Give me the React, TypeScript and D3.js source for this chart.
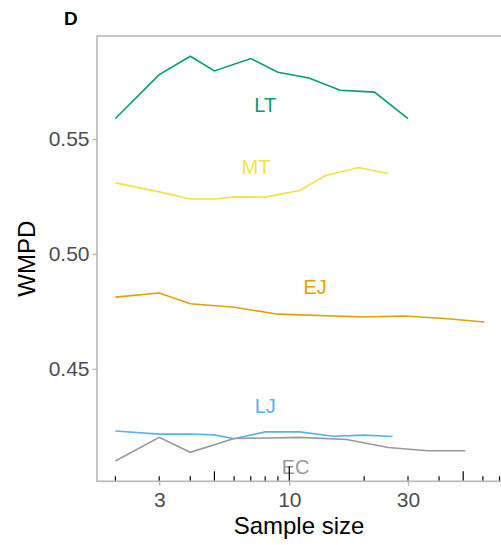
import React, { useEffect, useRef } from 'react';
import * as d3 from 'd3';

// sample sizes and WMPD values per group
const ltSizes = [2, 3, 4, 5, 7, 9, 12, 16, 22, 30];
const ltValues = [0.5589, 0.578, 0.586, 0.5796, 0.585, 0.579, 0.5765, 0.5712, 0.5704, 0.5589];

const mtSizes = [2, 3, 4, 5, 6, 8, 11, 14, 19, 25];
const mtValues = [0.5309, 0.527, 0.5239, 0.5239, 0.5248, 0.5247, 0.5276, 0.5341, 0.5376, 0.535];

const ejSizes = [2, 3, 4, 6, 9, 20, 29, 42, 61];
const ejValues = [0.4812, 0.483, 0.4783, 0.4768, 0.4738, 0.4726, 0.473, 0.4719, 0.4704];

const ljSizes = [2, 3, 4, 5, 6, 8, 11, 15, 20, 26];
const ljValues = [0.423, 0.4216, 0.4217, 0.4213, 0.4196, 0.4226, 0.4226, 0.4207, 0.4212, 0.4206];

const ecSizes = [2, 3, 4, 6, 11, 17, 25, 36, 51];
const ecValues = [0.4099, 0.4202, 0.4137, 0.4197, 0.4202, 0.4193, 0.4158, 0.4144, 0.4144];

const groups = ['LT', 'MT', 'EJ', 'LJ', 'EC'];
const groupColors = ['#009E73', '#F0E442', '#E69F00', '#56B4E9', '#999999'];
// where each group name is written (sample size, WMPD)
const labelSizes = [8, 7.35, 12.7, 8, 10.6];
const labelValues = [0.5647, 0.5381, 0.4855, 0.4338, 0.4073];

const xBreaks = [3, 10, 30];
const yBreaks = [0.45, 0.5, 0.55];

const App = () => {
  const ref = useRef<SVGSVGElement>(null);

  useEffect(() => {
    const svg = d3.select(ref.current);
    svg.selectAll('*').remove();

    const width = 501;
    const height = 545;
    const left = 97;
    const right = 503;
    const top = 36;
    const bottom = 481.3;

    const x = d3.scaleLog().domain([Math.pow(10, 0.227), Math.pow(10, 1.859)]).range([left, right]);
    const y = d3.scaleLinear().domain([0.4011, 0.5948]).range([bottom, top]);

    const font = 'Liberation Sans, Arial, Helvetica, sans-serif';

    svg.append('rect').attr('width', width).attr('height', height).attr('fill', '#fff');

    // series lines
    const series = [
      { sizes: ltSizes, values: ltValues },
      { sizes: mtSizes, values: mtValues },
      { sizes: ejSizes, values: ejValues },
      { sizes: ljSizes, values: ljValues },
      { sizes: ecSizes, values: ecValues },
    ];
    const line = d3.line<[number, number]>()
      .x(d => x(d[0]))
      .y(d => y(d[1]));

    series.forEach((s, i) => {
      const pts = s.sizes.map((n, j) => [n, s.values[j]] as [number, number]);
      svg.append('path')
        .attr('d', line(pts))
        .attr('fill', 'none')
        .attr('stroke', groupColors[i])
        .attr('stroke-width', 1.6);
    });

    // group labels
    groups.forEach((g, i) => {
      svg.append('text')
        .attr('x', x(labelSizes[i]))
        .attr('y', y(labelValues[i]))
        .attr('dy', '0.36em')
        .attr('text-anchor', 'middle')
        .attr('font-family', font)
        .attr('font-size', 20)
        .attr('fill', groupColors[i])
        .text(g);
    });

    // log ticks inside the panel along the bottom (drawn over the labels)
    const logTicks: number[] = [];
    [1, 10].forEach(dec => {
      for (let m = 1; m <= 9; m++) logTicks.push(dec * m);
    });
    logTicks
      .filter(v => x(v) >= left && x(v) <= right)
      .forEach(v => {
        const lead = Math.round(v / Math.pow(10, Math.floor(Math.log10(v) + 1e-9)));
        const len = lead === 1 ? 15 : lead === 5 ? 10 : 5;
        svg.append('line')
          .attr('x1', x(v)).attr('x2', x(v))
          .attr('y1', bottom).attr('y2', bottom - len)
          .attr('stroke', '#000')
          .attr('stroke-width', 1.2);
      });

    // panel border
    svg.append('rect')
      .attr('x', left).attr('y', top)
      .attr('width', right - left).attr('height', bottom - top)
      .attr('fill', 'none')
      .attr('stroke', '#b8b8b8')
      .attr('stroke-width', 1.6);

    // x axis
    const xAxis = svg.append('g').attr('transform', `translate(0,${bottom})`)
      .call(d3.axisBottom(x).tickValues(xBreaks).tickFormat(d3.format('d')).tickSize(4.5).tickPadding(6));
    xAxis.select('.domain').remove();
    xAxis.selectAll('line').attr('stroke', '#b8b8b8').attr('stroke-width', 1.4);
    xAxis.selectAll('text').attr('font-family', font).attr('font-size', 21).attr('fill', '#4d4d4d');

    // y axis
    const yAxis = svg.append('g').attr('transform', `translate(${left},0)`)
      .call(d3.axisLeft(y).tickValues(yBreaks).tickFormat(d3.format('.2f')).tickSize(4.5).tickPadding(3));
    yAxis.select('.domain').remove();
    yAxis.selectAll('line').attr('stroke', '#b8b8b8').attr('stroke-width', 1.4);
    yAxis.selectAll('text').attr('font-family', font).attr('font-size', 21).attr('fill', '#4d4d4d');

    // titles
    svg.append('text')
      .attr('x', 299).attr('y', 534)
      .attr('text-anchor', 'middle')
      .attr('font-family', font).attr('font-size', 24)
      .text('Sample size');

    svg.append('text')
      .attr('transform', `translate(35,${(top + bottom) / 2}) rotate(-90)`)
      .attr('text-anchor', 'middle')
      .attr('font-family', font).attr('font-size', 24)
      .text('WMPD');

    svg.append('text')
      .attr('x', 64).attr('y', 25)
      .attr('font-family', font).attr('font-size', 19).attr('font-weight', 'bold')
      .text('D');
  }, []);

  return (
    <svg ref={ref} width={501} height={545} style={{ position: 'absolute', left: 0, top: 0 }}></svg>
  );
};

export default App;
